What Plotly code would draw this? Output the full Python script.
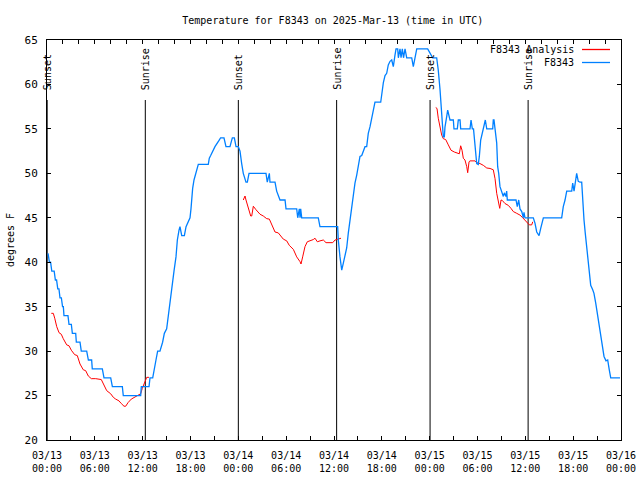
import plotly.graph_objects as go
from datetime import datetime, timedelta

# ---------------- data ----------------
BASE = datetime(2025, 3, 13, 0, 0)

obs_hours = [0.13, 0.3, 0.45, 0.6, 0.9, 1.05, 1.2, 1.35, 1.5, 1.63, 1.8, 1.95, 2.05, 2.13, 2.63, 2.76, 3.05,
             3.18, 3.6, 3.68, 4.14, 4.3, 4.98, 5.19, 5.6, 5.68, 6.94, 7.15, 7.99, 8.2, 9.45, 9.57, 11.75,
             11.83, 12.8, 12.92, 13.26, 13.42, 13.67, 13.88, 14.17, 14.5, 14.72, 15.01, 15.14, 15.3, 15.51,
             15.72, 15.93, 16.18, 16.35, 16.56, 16.68, 16.9, 17.23, 17.44, 17.73, 17.94, 18.06, 18.15, 18.27,
             18.44, 18.56, 18.77, 18.98, 20.23, 20.36, 20.53, 20.78, 21.07, 21.58, 21.78, 22.2, 22.45, 22.95,
             23.25, 23.5, 23.71, 24.0, 24.21, 24.42, 24.62, 24.96, 25.13, 25.34, 25.55, 27.47, 27.63, 27.89,
             27.97, 28.6, 28.81, 29.23, 29.86, 29.98, 31.32, 31.45, 31.65, 31.74, 31.82, 31.95, 34.03, 34.24,
             36.46, 36.54, 36.75, 36.97, 37.17, 37.38, 37.59, 37.79, 38.01, 38.22, 38.42, 38.63, 38.85, 39.05,
             39.26, 39.48, 39.68, 39.89, 40.1, 40.3, 40.52, 40.73, 40.93, 41.14, 41.86, 41.98, 42.19, 42.4,
             42.61, 42.81, 43.03, 43.24, 43.44, 43.65, 43.78, 43.99, 44.07, 44.28, 44.41, 44.57, 44.72, 44.91,
             45.12, 45.75, 45.95, 46.16, 46.38, 47.75, 48.04, 48.38, 48.88, 48.96, 49.08, 49.3, 49.42, 49.55,
             49.71, 49.84, 49.92, 50.14, 50.26, 50.55, 50.97, 51.05, 51.47, 51.59, 51.81, 51.89, 53.06, 53.19,
             53.35, 53.5, 53.69, 53.9, 54.1, 54.23, 54.4, 54.6, 54.82, 54.98, 55.16, 55.91, 55.98, 56.07, 56.2,
             56.41, 56.53, 56.66, 56.82, 57.04, 57.24, 57.37, 57.57, 57.66, 57.74, 58.83, 58.99, 59.17, 59.33,
             59.55, 59.75, 59.83, 59.96, 61.0, 61.21, 61.43, 61.72, 61.93, 62.05, 62.26, 64.56, 64.76, 64.98,
             65.19, 65.82, 65.94, 66.11, 66.27, 66.44, 66.64, 66.86, 67.07, 67.2, 67.36, 67.52, 67.7, 67.82,
             68.03, 68.2, 68.45, 68.61, 68.83, 69.03, 69.24, 69.45, 69.66, 69.87, 70.12, 70.33, 70.53, 70.71,
             71.88]
obs_temp = [41, 40, 40, 39, 39, 38, 38, 37, 37, 36, 36, 35, 35, 34, 34, 33, 33,
            32, 32, 31, 31, 30, 30, 29, 29, 28, 28, 27, 27, 26, 26, 25, 25,
            26, 26, 27, 27, 28, 29, 30, 30, 31, 32, 32.5, 33.5, 34.6, 36.3,
            38, 39, 40.6, 42.5, 43.6, 44, 43, 43, 44, 44.5, 45, 46, 47.4, 48.3,
            49.25, 49.7, 50.4, 51, 51, 51.7, 52, 52.5, 53, 53.7, 54, 54, 53, 53,
            54, 54, 53, 53, 52.5, 51.1, 50, 49, 49, 50, 50, 50, 49, 50,
            49, 49, 48, 47, 47, 46, 46, 45, 46, 45, 46, 45, 45, 44,
            44, 42.5, 40.6, 39.1, 39.9, 40.6, 41.6, 43.25, 44.75, 46.25, 47.6, 48.9, 49.8, 50.75,
            51.9, 52, 52.6, 53, 53, 54.5, 55.25, 56.2, 57, 58, 58, 59, 60.2, 61,
            61.25, 62.2, 62.6, 62.75, 62, 63.3, 64, 64, 63, 64, 63, 64, 63, 64,
            63, 63, 62, 63, 64, 64, 63.5, 63, 63, 62.6, 61.6, 59.4, 57.9, 56.2,
            54.1, 54.1, 55.2, 56.4, 57.1, 56, 56, 55, 55, 56, 56, 55, 55, 56,
            55, 55, 53.4, 51.1, 51, 51.9, 53.75, 54.5, 55.2, 56, 55, 55, 56, 56, 55,
            53.4, 50.75, 50, 48.5, 48, 47.4, 47.8, 47.4, 48, 47, 47, 46.25, 47, 46,
            45.7, 45, 45.6, 45, 45, 44.4, 43.4, 43, 43.8, 44.4, 45, 45, 46.25, 47,
            48, 48, 48.9, 48, 49, 50, 49.1, 49, 49, 46.6, 44.75, 43.25, 41.75, 40.4,
            38.75, 37.4, 36.9, 36.5, 35.4, 34.25, 33.1, 32, 30.5, 29.4, 28.9, 29, 27.9, 27,
            27]

ana_hours = [0.54, 0.79, 0.97, 1.22, 1.51, 1.79, 2.04, 2.47, 2.76, 3.05, 3.47, 3.8, 4.14, 4.55, 4.85, 5.18,
             5.56, 6.11, 6.81, 7.06, 7.49, 7.99, 8.32, 8.62, 9.03, 9.32, 9.66, 9.87, 10.16, 10.57, 11.0,
             11.33, 11.75, 11.95, 12.26, 12.51, 12.79,
             None,
             24.62, 24.84, 24.96, 25.25, 25.55, 25.68, 25.88, 26.22, 26.72, 27.13, 27.56, 27.89, 28.19, 28.6,
             29.01, 29.31, 29.64, 30.07, 30.39, 30.9, 31.32, 31.74, 31.86, 32.07, 32.36, 32.65, 32.99, 33.4,
             33.62, 33.91, 34.24, 34.66, 35.0, 35.84, 36.13, 36.54, 36.88,
             None,
             48.76, 48.92, 49.08, 49.3, 49.51, 49.71, 50.01, 50.34, 50.68, 51.09, 51.52, 51.72, 51.89, 52.06,
             52.22, 52.43, 52.65, 52.77, 52.94, 53.06, 53.69, 53.9, 54.31, 54.73, 55.16, 55.57, 55.98, 56.2,
             56.41, 56.61, 56.79, 56.95, 57.11, 57.45, 57.86, 58.2, 58.49, 58.92, 59.33, 59.62, 59.96, 60.3,
             60.5, 60.8, 60.93]
ana_temp = [34.25, 34.25, 33.7, 32.75, 32.07, 31.9, 31.4, 30.7, 30.6, 30.1, 29.6, 29.5, 28.55, 27.9, 27.8, 27.2,
            26.9, 26.9, 26.8, 26.4, 25.55, 25.2, 24.8, 24.6, 24.4, 24.1, 23.8, 23.8, 24.2, 24.6, 24.8,
            25.0, 25.2, 25.8, 26.6, 27.05, 27.05,
            None,
            47.0, 47.45, 47.0, 46.06, 45.2, 45.2, 46.3, 45.9, 45.4, 45.2, 44.9, 44.85, 44.2, 43.4,
            43.3, 42.95, 42.6, 42.4, 41.9, 41.45, 40.6, 40.06, 39.8, 40.6, 41.75, 42.3, 42.4, 42.55,
            42.7, 42.3, 42.4, 42.5, 42.2, 42.2, 42.5, 42.65, 42.7,
            None,
            57.4, 57.3, 56.2, 55.25, 54.3, 53.9, 53.8, 53.2, 52.6, 52.4, 52.25, 52.2, 53.1, 52.6,
            51.7, 51.5, 50.75, 50.07, 51.3, 51.4, 51.4, 51.2, 51.1, 50.9, 50.6, 50.55, 50.4, 49.4,
            47.75, 46.6, 46.06, 47.0, 46.95, 46.6, 46.4, 46.06, 45.7, 45.5, 45.3, 45.05, 44.75, 44.45,
            44.2, 44.2, 44.55]

sun_hours = [0.02, 12.33, 24.0, 36.33, 48.05, 60.35]
sun_labels = ["Sunset", "Sunrise", "Sunset", "Sunrise", "Sunset", "Sunrise"]

series_names = ["F8343 Analysis", "F8343"]
series_colors = ["#ff0000", "#0080ff"]

title_text = "Temperature for F8343 on 2025-Mar-13 (time in UTC)"
y_title = "degrees F"
y_range = [20, 65]
x_span_hours = 72

# ---------------- helpers ----------------
def to_dt(hours):
    return [BASE + timedelta(hours=h) if h is not None else None for h in hours]

FONT = "DejaVu Sans Mono"
fs = 10
x0 = BASE
x1 = BASE + timedelta(hours=x_span_hours)

fig = go.Figure()

# sunrise / sunset vertical markers
for h in sun_hours:
    t = BASE + timedelta(hours=h)
    fig.add_trace(go.Scatter(x=[t, t], y=[y_range[0], 58.25], mode="lines",
                             line=dict(color="black", width=1), showlegend=False,
                             hoverinfo="skip"))

fig.add_trace(go.Scatter(x=to_dt(ana_hours), y=ana_temp, mode="lines", name=series_names[0],
                         line=dict(color=series_colors[0], width=1), connectgaps=False,
                         showlegend=False))
fig.add_trace(go.Scatter(x=to_dt(obs_hours), y=obs_temp, mode="lines", name=series_names[1],
                         line=dict(color=series_colors[1], width=1.3), showlegend=False))

# dummy trace to activate top axis
fig.add_trace(go.Scatter(x=[x0, x1], y=[None, None], xaxis="x2", showlegend=False, hoverinfo="skip"))

annotations = []
for h, lab in zip(sun_hours, sun_labels):
    annotations.append(dict(x=BASE + timedelta(hours=h), y=59.15, xref="x", yref="y",
                            text=lab, textangle=-90, showarrow=False,
                            xanchor="center", yanchor="bottom",
                            font=dict(family=FONT, size=fs, color="black")))

# manual gnuplot-style legend (text left, sample right)
def px_x(px):
    return (px - 47) / 574.0

def px_y(py):
    return 1 - (py - 40) / 400.0

shapes = []
for i, (name, col, py) in enumerate(zip(series_names, series_colors, [49.5, 62.5])):
    annotations.append(dict(x=px_x(576), y=px_y(py), xref="paper", yref="paper", text=name,
                            showarrow=False, xanchor="right", yanchor="middle",
                            font=dict(family=FONT, size=fs, color="black")))
    shapes.append(dict(type="line", xref="paper", yref="paper", x0=px_x(582), x1=px_x(610),
                       y0=px_y(py), y1=px_y(py), line=dict(color=col, width=1.3)))

fig.update_layout(
    width=640, height=480,
    margin=dict(l=47, r=19, t=40, b=40, pad=0, autoexpand=False),
    paper_bgcolor="white", plot_bgcolor="white",
    title=dict(text=title_text, x=0.52, xanchor="center", y=1 - 20 / 480, yanchor="middle",
               xref="container", yref="container",
               font=dict(family=FONT, size=fs, color="black")),
    showlegend=False,
    annotations=annotations,
    shapes=shapes,
    xaxis=dict(type="date", range=[x0, x1], tickmode="linear", tick0=x0, dtick=6 * 3600000,
               tickformat="%m/%d<br>%H:%M", ticks="inside", ticklen=4, tickcolor="black",
               showline=True, linecolor="black", linewidth=1, mirror=False, showgrid=False,
               zeroline=False, ticklabelstandoff=6, automargin=False,
               tickfont=dict(family=FONT, size=fs, color="black"),
               minor=dict(dtick=3 * 3600000, tick0=x0, ticks="inside", ticklen=4,
                          tickcolor="black", showgrid=False)),
    xaxis2=dict(type="date", range=[x0, x1], overlaying="x", side="top", tickmode="linear",
                tick0=x0, dtick=2 * 3600000, ticks="inside", ticklen=4, tickcolor="black",
                showticklabels=False, showline=True, linecolor="black", linewidth=1,
                showgrid=False, zeroline=False, automargin=False),
    yaxis=dict(range=y_range, tickmode="linear", tick0=20, dtick=5, ticks="inside", ticklen=4,
               tickcolor="black", showline=True, linecolor="black", linewidth=1, mirror="ticks",
               showgrid=False, zeroline=False, ticklabelstandoff=6, automargin=False,
               tickfont=dict(family=FONT, size=fs + 1, color="black"),
               title=dict(text=y_title, standoff=8, font=dict(family=FONT, size=fs, color="black"))),
)

fig.write_html("out.html",
               config={"displayModeBar": False},
               post_script="document.body.style.margin='0px';document.body.style.overflow='hidden';")
